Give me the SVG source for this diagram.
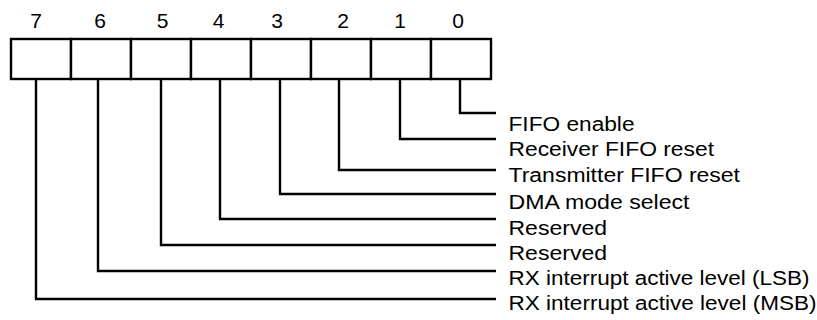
<svg xmlns="http://www.w3.org/2000/svg" width="817" height="320" viewBox="0 0 817 320">
<style>
.cell{fill:#fff;stroke:#000;stroke-width:2.4}
.wire{fill:none;stroke:#000;stroke-width:2.4;stroke-linejoin:miter}
.num{font-family:"Liberation Sans",Arial,sans-serif;font-size:21px;text-anchor:middle;fill:#000}
.lbl{font-family:"Liberation Sans",Arial,sans-serif;font-size:19.5px;fill:#000}
</style>
<rect width="817" height="320" fill="#fff"/>
<g id="register">
<g id="bit7"><rect class="cell" x="11" y="39" width="60" height="40"/><text class="num" x="36" y="28">7</text></g>
<g id="bit6"><rect class="cell" x="71" y="39" width="60" height="40"/><text class="num" x="100" y="28">6</text></g>
<g id="bit5"><rect class="cell" x="131" y="39" width="60" height="40"/><text class="num" x="162.5" y="28">5</text></g>
<g id="bit4"><rect class="cell" x="191" y="39" width="60" height="40"/><text class="num" x="218.5" y="28">4</text></g>
<g id="bit3"><rect class="cell" x="251" y="39" width="60" height="40"/><text class="num" x="277" y="28">3</text></g>
<g id="bit2"><rect class="cell" x="311" y="39" width="60" height="40"/><text class="num" x="343" y="28">2</text></g>
<g id="bit1"><rect class="cell" x="371" y="39" width="60" height="40"/><text class="num" x="400" y="28">1</text></g>
<g id="bit0"><rect class="cell" x="431" y="39" width="60" height="40"/><text class="num" x="458" y="28">0</text></g>
</g>
<g id="connectors">
<path class="wire" d="M460 79V113H496"/>
<path class="wire" d="M400 79V139H496"/>
<path class="wire" d="M339 79V170H496"/>
<path class="wire" d="M280 79V194H496"/>
<path class="wire" d="M220 79V219H496"/>
<path class="wire" d="M161 79V245H496"/>
<path class="wire" d="M98 79V271H496"/>
<path class="wire" d="M36 79V299H496"/>
</g>
<g id="labels">
<text class="lbl" x="508.5" y="131" textLength="126" lengthAdjust="spacingAndGlyphs">FIFO enable</text>
<text class="lbl" x="508.5" y="155.5" textLength="205.5" lengthAdjust="spacingAndGlyphs">Receiver FIFO reset</text>
<text class="lbl" x="508.5" y="181.5" textLength="231.5" lengthAdjust="spacingAndGlyphs">Transmitter FIFO reset</text>
<text class="lbl" x="508.5" y="209" textLength="181" lengthAdjust="spacingAndGlyphs">DMA mode select</text>
<text class="lbl" x="508.5" y="235" textLength="98.5" lengthAdjust="spacingAndGlyphs">Reserved</text>
<text class="lbl" x="508.5" y="260" textLength="98.5" lengthAdjust="spacingAndGlyphs">Reserved</text>
<text class="lbl" x="508.5" y="285" textLength="301" lengthAdjust="spacingAndGlyphs">RX interrupt active level (LSB)</text>
<text class="lbl" x="508.5" y="310" textLength="308" lengthAdjust="spacingAndGlyphs">RX interrupt active level (MSB)</text>
</g>
</svg>
